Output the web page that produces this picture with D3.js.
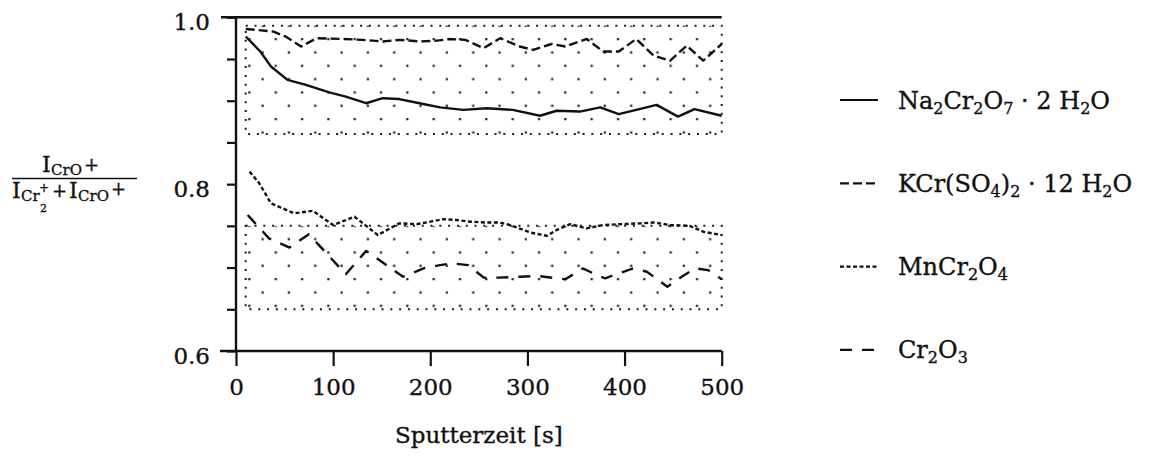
<!DOCTYPE html>
<html>
<head>
<meta charset="utf-8">
<script src="https://cdn.jsdelivr.net/npm/d3@7"></script>
<style>
  html, body { margin: 0; padding: 0; background: #ffffff; }
  svg { display: block; }
  text { font-family: "DejaVu Serif", "Liberation Serif", serif; fill: #111; stroke: #111; stroke-width: 0.35px; }
</style>
</head>
<body>
<svg id="chart" width="1149" height="456"></svg>
<script>
// ---------------- data ----------------
const xTicks = [0, 100, 200, 300, 400, 500];
const yTicks = [0.6, 0.65, 0.7, 0.75, 0.8, 0.85, 0.9, 0.95, 1.0];
const yLabelTicks = [0.6, 0.8, 1.0];

const seriesNames = ["Na_2Cr_2O_7 · 2 H_2O", "KCr(SO_4)_2 · 12 H_2O", "MnCr_2O_4", "Cr_2O_3"];

const naTime = [10, 25, 36, 53, 72, 96, 113, 134, 151, 168, 189, 210, 234, 258, 285, 313, 330, 354, 375, 394, 412, 433, 455, 472, 500];
const naValue = [0.977, 0.959, 0.941, 0.925, 0.919, 0.910, 0.905, 0.897, 0.903, 0.902, 0.897, 0.892, 0.889, 0.891, 0.889, 0.882, 0.888, 0.887, 0.892, 0.884, 0.889, 0.895, 0.881, 0.890, 0.882];

const kcrTime = [10, 38, 51, 67, 83, 110, 130, 151, 169, 189, 207, 220, 236, 255, 272, 292, 306, 325, 339, 361, 378, 394, 412, 430, 447, 464, 481, 500];
const kcrValue = [0.986, 0.983, 0.977, 0.965, 0.975, 0.974, 0.973, 0.971, 0.973, 0.971, 0.972, 0.974, 0.973, 0.963, 0.975, 0.965, 0.961, 0.968, 0.965, 0.974, 0.959, 0.959, 0.974, 0.954, 0.948, 0.966, 0.948, 0.968];

const mnTime = [14, 24, 36, 48, 60, 79, 100, 122, 146, 168, 186, 200, 213, 227, 241, 258, 272, 282, 303, 320, 330, 344, 361, 378, 395, 416, 430, 447, 467, 481, 500];
const mnValue = [0.815, 0.801, 0.777, 0.771, 0.765, 0.768, 0.751, 0.761, 0.739, 0.753, 0.752, 0.755, 0.758, 0.757, 0.755, 0.754, 0.754, 0.751, 0.742, 0.738, 0.745, 0.752, 0.747, 0.751, 0.752, 0.753, 0.754, 0.751, 0.750, 0.743, 0.739];

const crTime = [12, 34, 55, 75, 113, 134, 172, 193, 210, 223, 239, 255, 270, 292, 310, 339, 357, 368, 380, 394, 409, 423, 444, 460, 473, 486, 500];
const crValue = [0.763, 0.735, 0.724, 0.740, 0.692, 0.720, 0.689, 0.699, 0.703, 0.705, 0.703, 0.688, 0.688, 0.689, 0.690, 0.686, 0.699, 0.693, 0.687, 0.693, 0.699, 0.695, 0.677, 0.690, 0.699, 0.697, 0.686];

// shaded (dotted) ranges: [xStart, xEnd, yLow, yHigh]
const bandUpper = [10, 500, 0.86, 0.99];
const bandLower = [10, 500, 0.65, 0.75];

const xAxisTitle = "Sputterzeit [s]";

// ---------------- layout ----------------
const svg = d3.select("#chart");
const x = d3.scaleLinear().domain([0, 500]).range([236, 721.7]);
const y = d3.scaleLinear().domain([0.6, 1.0]).range([351, 17.3]);
const ink = "#111";

// dot pattern
const defs = svg.append("defs");
const pat = defs.append("pattern")
  .attr("id", "dots")
  .attr("patternUnits", "userSpaceOnUse")
  .attr("width", 26.33).attr("height", 26.67)
  .attr("x", 249.3 - 6).attr("y", 65.7 - 6);
pat.append("rect").attr("x", 5).attr("y", 5).attr("width", 2.2).attr("height", 2.2).attr("fill", "#1a1a1a");
pat.append("rect").attr("x", 5 + 13.17).attr("y", 5 + 13.33).attr("width", 2.2).attr("height", 2.2).attr("fill", "#1a1a1a");

[bandUpper, bandLower].forEach(b => {
  svg.append("rect")
    .attr("x", x(b[0])).attr("y", y(b[3]))
    .attr("width", x(b[1]) - x(b[0])).attr("height", y(b[2]) - y(b[3]))
    .attr("fill", "url(#dots)")
    .attr("stroke", "#1a1a1a").attr("stroke-width", 2)
    .attr("stroke-dasharray", "2 6.8");
});

// axes
const gy = svg.append("g").attr("transform", `translate(${x(0)},0)`)
  .call(d3.axisLeft(y).tickValues(yTicks).tickSize(9).tickPadding(17)
    .tickFormat(d => yLabelTicks.some(v => Math.abs(v - d) < 1e-9) ? d3.format(".1f")(d) : ""));
gy.select(".domain").remove();
gy.selectAll("line").attr("stroke", ink).attr("stroke-width", 2.2);
gy.selectAll("text").attr("font-size", 23).attr("dy", "0.53em")
  .style("font-family", "'DejaVu Serif', serif").attr("fill", ink);

const gx = svg.append("g").attr("transform", `translate(0,${y(0.6)})`)
  .call(d3.axisBottom(x).tickValues(xTicks).tickSize(15).tickPadding(13).tickFormat(d3.format("d")));
gx.select(".domain").remove();
gx.selectAll("line").attr("stroke", ink).attr("stroke-width", 2.2);
gx.selectAll("text").attr("font-size", 23)
  .style("font-family", "'DejaVu Serif', serif").attr("fill", ink);

// frame lines
svg.append("line").attr("x1", x(0) - 15).attr("x2", x(500)).attr("y1", y(1.0)).attr("y2", y(1.0))
  .attr("stroke", ink).attr("stroke-width", 2.4);
svg.append("line").attr("x1", x(0) - 16).attr("x2", x(500)).attr("y1", y(0.6)).attr("y2", y(0.6))
  .attr("stroke", ink).attr("stroke-width", 2.4);
svg.append("line").attr("x1", x(0)).attr("x2", x(0)).attr("y1", y(1.0)).attr("y2", y(0.6))
  .attr("stroke", ink).attr("stroke-width", 2.4);

// series
const series = [
  { name: seriesNames[0], t: naTime, v: naValue, dash: null },
  { name: seriesNames[1], t: kcrTime, v: kcrValue, dash: "9 4" },
  { name: seriesNames[2], t: mnTime, v: mnValue, dash: "4 2.5" },
  { name: seriesNames[3], t: crTime, v: crValue, dash: "12 10" }
];
const line = d3.line().x(d => x(d[0])).y(d => y(d[1]));
series.forEach(s => {
  svg.append("path")
    .datum(s.t.map((t, i) => [t, s.v[i]]))
    .attr("d", line)
    .attr("fill", "none").attr("stroke", ink).attr("stroke-width", 2.4)
    .attr("stroke-linejoin", "round")
    .attr("stroke-dasharray", s.dash);
});

// x axis title
svg.append("text").attr("x", (x(0) + x(500)) / 2).attr("y", 443)
  .attr("text-anchor", "middle").attr("font-size", 23).text(xAxisTitle);

// legend
function chem(textSel, label, size, subSize) {
  const parts = label.split(/(_\d+)/).filter(p => p.length);
  let sub = false;
  parts.forEach(p => {
    if (p.startsWith("_")) {
      textSel.append("tspan").attr("font-size", subSize).attr("dy", sub ? 0 : 5).text(p.slice(1));
      sub = true;
    } else {
      textSel.append("tspan").attr("font-size", size).attr("dy", sub ? -5 : 0).text(p);
      sub = false;
    }
  });
}
const legendY = [100, 183.3, 266.6, 349.9];
series.forEach((s, i) => {
  svg.append("line").attr("x1", 840).attr("x2", 878).attr("y1", legendY[i]).attr("y2", legendY[i])
    .attr("stroke", ink).attr("stroke-width", 2.2).attr("stroke-dasharray", s.dash);
  const t = svg.append("text").attr("x", 898).attr("y", legendY[i] + 8.5);
  chem(t, s.name, 24, 16);
});

// y axis title (fraction)
const frac = svg.append("g");
const pieces = [
  ["I", 42, 172, 22], ["CrO", 51, 175, 15], ["+", 84, 171, 18],
  ["I", 12, 198, 22], ["Cr", 21, 201, 15], ["2", 40, 212, 11], ["+", 39, 192, 12],
  ["+", 52, 197, 18], ["I", 69, 198, 22], ["CrO", 78, 201, 15], ["+", 111, 195, 18]
];
pieces.forEach(p => {
  frac.append("text").attr("x", p[1]).attr("y", p[2]).attr("font-size", p[3]).text(p[0]);
});
frac.append("line").attr("x1", 12).attr("x2", 137).attr("y1", 178.5).attr("y2", 178.5)
  .attr("stroke", ink).attr("stroke-width", 1.5);
</script>
</body>
</html>
